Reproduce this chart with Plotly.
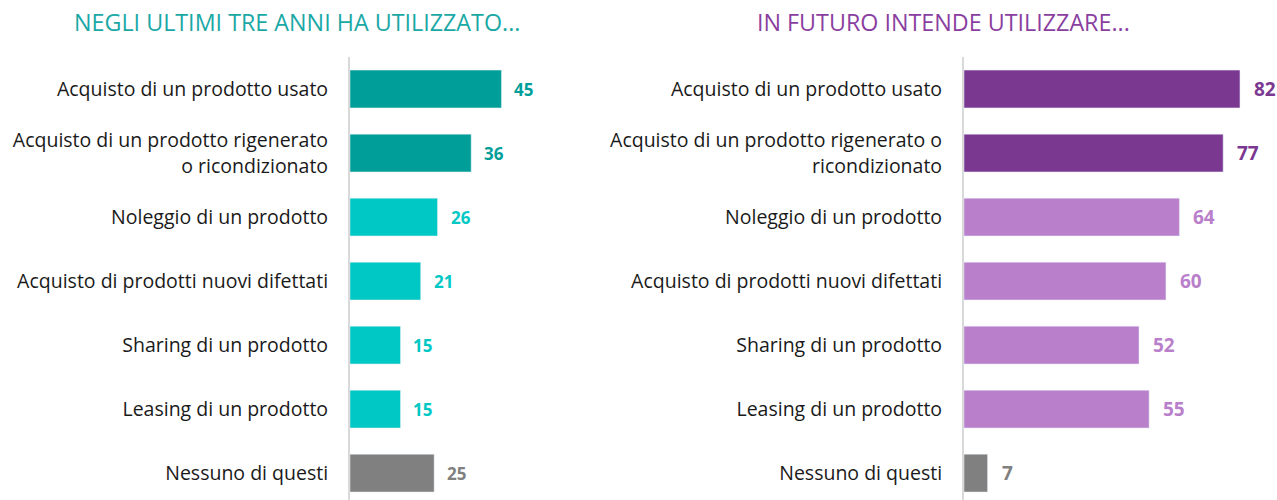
import plotly.graph_objects as go

categories_past = [
    "Acquisto di un prodotto usato",
    "Acquisto di un prodotto rigenerato<br>o ricondizionato",
    "Noleggio di un prodotto",
    "Acquisto di prodotti nuovi difettati",
    "Sharing di un prodotto",
    "Leasing di un prodotto",
    "Nessuno di questi",
]
categories_future = [
    "Acquisto di un prodotto usato",
    "Acquisto di un prodotto rigenerato o<br>ricondizionato",
    "Noleggio di un prodotto",
    "Acquisto di prodotti nuovi difettati",
    "Sharing di un prodotto",
    "Leasing di un prodotto",
    "Nessuno di questi",
]
past_values = [45, 36, 26, 21, 15, 15, 25]
future_values = [82, 77, 64, 60, 52, 55, 7]

past_colors = ["#009E99", "#009E99", "#00C8C4", "#00C8C4", "#00C8C4", "#00C8C4", "#808080"]
future_colors = ["#7B3891", "#7B3891", "#B97FCB", "#B97FCB", "#B97FCB", "#B97FCB", "#808080"]

title_left = "NEGLI ULTIMI TRE ANNI HA UTILIZZATO..."
title_right = "IN FUTURO INTENDE UTILIZZARE..."

W, H = 1277, 500
FONT = "Open Sans"

fig = go.Figure()
fig.add_trace(go.Bar(y=categories_past, x=past_values, orientation="h",
                     marker=dict(color=past_colors), xaxis="x", yaxis="y",
                     hoverinfo="skip"))
fig.add_trace(go.Bar(y=categories_future, x=future_values, orientation="h",
                     marker=dict(color=future_colors), xaxis="x2", yaxis="y2",
                     hoverinfo="skip"))

ann = []
for v, c, cat in zip(past_values, past_colors, categories_past):
    ann.append(dict(x=v, y=cat, xref="x", yref="y", text=f"<b>{v}</b>", showarrow=False,
                    xanchor="left", yanchor="middle", xshift=11,
                    font=dict(family=FONT, size=17, color=c)))
for v, c, cat in zip(future_values, future_colors, categories_future):
    ann.append(dict(x=v, y=cat, xref="x2", yref="y2", text=f"<b>{v}</b>", showarrow=False,
                    xanchor="left", yanchor="middle", xshift=12,
                    font=dict(family=FONT, size=19, color=c)))
ann.append(dict(x=72 / W, y=1 - 4 / H, xref="paper", yref="paper",
                text=title_left, showarrow=False, xanchor="left", yanchor="top",
                font=dict(family=FONT, size=23.3, color="#1AA8A5")))
ann.append(dict(x=755 / W, y=1 - 4 / H, xref="paper", yref="paper",
                text=title_right, showarrow=False, xanchor="left", yanchor="top",
                font=dict(family=FONT, size=23.3, color="#8A3FA0")))

ydom = [0, 1 - 57 / H]
yrange = [6.42, -0.5]
common_y = dict(domain=ydom, range=yrange, showline=True, linecolor="#D9D9D9", linewidth=2,
                ticks="", ticklabelstandoff=16, showgrid=False, zeroline=False, automargin=False,
                tickfont=dict(family=FONT, size=19.5, color="#1A1A1A"), fixedrange=True)
common_x = dict(range=[0, 93], visible=False, showgrid=False, zeroline=False,
                automargin=False, fixedrange=True)

fig.update_layout(
    width=W, height=H,
    margin=dict(l=0, r=0, t=0, b=0, autoexpand=False),
    paper_bgcolor="white", plot_bgcolor="white",
    showlegend=False, bargap=0.41,
    xaxis=dict(domain=[350 / W, 663 / W], **common_x),
    xaxis2=dict(domain=[964 / W, 1.0], **common_x),
    yaxis=dict(anchor="x", **common_y),
    yaxis2=dict(anchor="x2", **common_y),
    annotations=ann,
)

fig.write_html("out.html", config={"displayModeBar": False},
               post_script="document.body.style.margin='0';document.body.style.overflow='hidden';")
